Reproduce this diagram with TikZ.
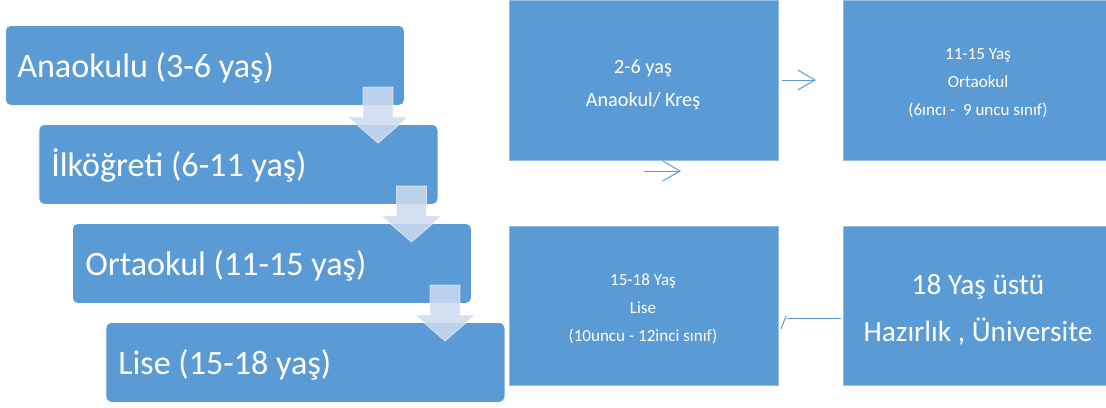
\documentclass[tikz,border=0pt]{standalone}
\usepackage{fontspec}
\setmainfont{Carlito}
\usetikzlibrary{arrows.meta}
\definecolor{obox}{RGB}{91,155,213}
\definecolor{oarrow}{RGB}{205,219,239}
\definecolor{oedge}{RGB}{150,190,228}
\begin{document}
\begin{tikzpicture}[x=0.75pt,y=-0.75pt,
  lbox/.style={fill=obox,draw=white,line width=0.6pt,rounded corners=4pt,inner sep=0pt,anchor=north west,minimum width=299.25pt,minimum height=60pt},
  rbox/.style={fill=obox,draw=oedge,line width=0.7pt,inner sep=0pt,anchor=north west},
  ltext/.style={anchor=base west,text=white,inner sep=0pt,font=\fontsize{25.6}{30}\selectfont},
  rtext/.style={text=white,inner sep=0pt,align=center},
  downarrow/.style={fill=oarrow,fill opacity=0.85,draw=white,draw opacity=0.6,line width=0.6pt},
  flow/.style={draw=obox,line width=0.75pt,-{Straight Barb[length=13pt,width=15pt,line width=0.75pt]}}
]
\useasboundingbox (0,0) rectangle (1106,407);
\clip (0,0) rectangle (1106,407);
% left staircase
\node[lbox] (l1) at (5,25) {};
\node[lbox] (l2) at (38.5,124) {};
\node[lbox] (l3) at (72,223) {};
\node[lbox] (l4) at (105.5,322) {};
\node[ltext] (t1) at (17,77) {Anaokulu (3-6 yaş)};
\node[ltext] (t2) at (51,176) {İlköğreti (6-11 yaş)};
\node[ltext] (t3) at (85,275) {Ortaokul (11-15 yaş)};
\node[ltext] (t4) at (118,374) {Lise (15-18 yaş)};
% down arrows
\foreach \k in {0,1,2}{
  \pgfmathsetmacro{\cx}{378+33.5*\k}
  \pgfmathsetmacro{\ty}{87+99*\k}
  \path[downarrow] (\cx-15,\ty) -- (\cx+15,\ty) -- (\cx+15,\ty+30) -- (\cx+30,\ty+30)
     -- (\cx,\ty+56) -- (\cx-30,\ty+30) -- (\cx-15,\ty+30) -- cycle;
}
% right boxes
\node[rbox,minimum width=201.75pt,minimum height=120pt] (a) at (509,0) {};
\node[rbox,minimum width=204pt,minimum height=120pt] (b) at (843,0) {};
\node[rbox,minimum width=201.75pt,minimum height=119.25pt] (c) at (509,226) {};
\node[rbox,minimum width=204pt,minimum height=119.25pt] (d) at (843,226) {};
\node[rtext,font=\fontsize{15.2}{24.75}\selectfont] (ta) at (643,85) {2-6 yaş\\Anaokul/ Kreş};
\node[rtext,font=\fontsize{12.8}{21}\selectfont] (tb) at (978,83) {11-15 Yaş\\Ortaokul\\(6ıncı -\ \ 9 uncu sınıf)};
\node[rtext,font=\fontsize{12.8}{20.8}\selectfont] (tc) at (643,309) {15-18 Yaş\\Lise\\(10uncu - 12inci sınıf)};
\node[rtext,font=\fontsize{22}{35}\selectfont] (td) at (978,310) {18 Yaş üstü\\Hazırlık , Üniversite};
% connectors
\coordinate (a1s) at (782,80);
\coordinate (a1e) at (816,80);
\coordinate (a2s) at (644,171);
\coordinate (a2e) at (681,171);
\coordinate (a3s) at (841,318);
\coordinate (a3e) at (787,318);
\coordinate (k1) at (781,329);
\coordinate (k2) at (786,316);
\draw[flow] (a1s) -- (a1e);
\draw[flow] (a2s) -- (a2e);
\draw[draw=obox,line width=0.75pt] (a3s) -- (a3e);
\draw[draw=obox,line width=0.75pt] (k1) -- (k2);
\end{tikzpicture}
\end{document}
